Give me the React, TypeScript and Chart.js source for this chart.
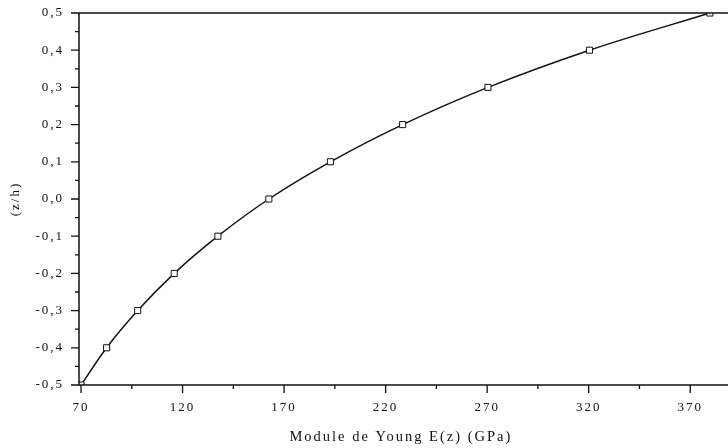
import React, { useEffect, useRef } from "react";
import { Chart, registerables } from "chart.js";

Chart.register(...registerables);

// Data
const youngModulus = [70, 82.6, 97.9, 115.9, 137.4, 162.5, 192.8, 228.4, 270.4, 320.4, 379.7];
const zOverH = [-0.5, -0.4, -0.3, -0.2, -0.1, 0.0, 0.1, 0.2, 0.3, 0.4, 0.5];

const xTickValues = [70, 120, 170, 220, 270, 320, 370];
const yTickValues = [-0.5, -0.4, -0.3, -0.2, -0.1, 0.0, 0.1, 0.2, 0.3, 0.4, 0.5];

const xTitle = "Module de Young E(z) (GPa)";
const yTitle = "(z/h)";

const FONT = "'Liberation Serif', 'Times New Roman', serif";
const INK = "#111";

const framePlugin = {
  id: "frame",
  beforeDraw(chart: any) {
    (chart.ctx as any).letterSpacing = "2px";
  },
  afterDraw(chart: any) {
    const { ctx, chartArea, scales } = chart;
    const xs = scales.x;
    const ys = scales.y;
    ctx.save();
    (ctx as any).letterSpacing = "0px";
    ctx.strokeStyle = INK;
    ctx.lineWidth = 1.5;
    ctx.beginPath();
    // left axis
    ctx.moveTo(chartArea.left, chartArea.top);
    ctx.lineTo(chartArea.left, chartArea.bottom);
    // bottom axis
    ctx.moveTo(chartArea.left, chartArea.bottom);
    ctx.lineTo(chart.width, chartArea.bottom);
    // top line
    ctx.moveTo(chartArea.left, chartArea.top);
    ctx.lineTo(chart.width, chartArea.top);
    ctx.stroke();

    ctx.lineWidth = 1.3;
    ctx.beginPath();
    // y ticks (major + minor halfway)
    for (let i = 0; i < yTickValues.length; i++) {
      const v = yTickValues[i];
      const py = ys.getPixelForValue(v);
      ctx.moveTo(chartArea.left - 8, py);
      ctx.lineTo(chartArea.left, py);
      if (i < yTickValues.length - 1) {
        const m = (v + yTickValues[i + 1]) / 2;
        const pm = ys.getPixelForValue(m);
        ctx.moveTo(chartArea.left - 4, pm);
        ctx.lineTo(chartArea.left, pm);
      }
    }
    // x ticks
    for (let i = 0; i < xTickValues.length; i++) {
      const v = xTickValues[i];
      const px = xs.getPixelForValue(v);
      ctx.moveTo(px, chartArea.bottom);
      ctx.lineTo(px, chartArea.bottom + 8);
      const step = i < xTickValues.length - 1 ? xTickValues[i + 1] - v : xTickValues[1] - xTickValues[0];
      const m = v + step / 2;
      if (m <= xs.max) {
        const pm = xs.getPixelForValue(m);
        ctx.moveTo(pm, chartArea.bottom);
        ctx.lineTo(pm, chartArea.bottom + 4);
      }
    }
    ctx.stroke();
    ctx.restore();
  },
};

export default function App() {
  const canvasRef = useRef<HTMLCanvasElement | null>(null);

  useEffect(() => {
    if (!canvasRef.current) return;
    const points = youngModulus.map((x, i) => ({ x, y: zOverH[i] }));
    const chart = new Chart(canvasRef.current, {
      type: "scatter",
      data: {
        datasets: [
          {
            data: points,
            showLine: true,
            cubicInterpolationMode: "monotone",
            borderColor: INK,
            borderWidth: 1.5,
            pointStyle: "rect",
            pointRadius: 4.3,
            pointBackgroundColor: "#fff",
            pointBorderColor: INK,
            pointBorderWidth: 1,
          } as any,
        ],
      },
      options: {
        responsive: false,
        animation: false,
        layout: { padding: { top: 13, right: 0, left: 0, bottom: 0 } },
        plugins: {
          legend: { display: false },
          tooltip: { enabled: false },
        },
        scales: {
          x: {
            type: "linear",
            min: 69,
            max: 386,
            grid: { display: false, drawTicks: false, tickLength: 0 },
            border: { display: false },
            afterBuildTicks: (scale: any) => {
              scale.ticks = xTickValues.map((value) => ({ value }));
            },
            afterFit: (scale: any) => {
              scale.height = 63;
              scale.paddingLeft = 0;
              scale.paddingRight = 0;
            },
            ticks: {
              color: INK,
              padding: 15,
              maxRotation: 0,
              autoSkip: false,
              font: { family: FONT, size: 13 },
              callback: (v: any) => String(v),
            },
            title: {
              display: true,
              text: xTitle,
              color: INK,
              font: { family: FONT, size: 14.5 },
              padding: { top: 0, bottom: 2 },
            },
          },
          y: {
            type: "linear",
            min: -0.5,
            max: 0.5,
            grid: { display: false, drawTicks: false, tickLength: 0 },
            border: { display: false },
            afterBuildTicks: (scale: any) => {
              scale.ticks = yTickValues.map((value) => ({ value }));
            },
            afterFit: (scale: any) => {
              scale.width = 79;
              scale.paddingTop = 0;
              scale.paddingBottom = 0;
            },
            ticks: {
              color: INK,
              padding: 15,
              autoSkip: false,
              font: { family: FONT, size: 13 },
              callback: (v: any) => Number(v).toFixed(1).replace(".", ","),
            },
            title: {
              display: true,
              text: yTitle,
              color: INK,
              font: { family: FONT, size: 13 },
              padding: { top: 8, bottom: 0 },
            },
          },
        },
      },
      plugins: [framePlugin],
    });
    return () => chart.destroy();
  }, []);

  return (
    <div style={{ position: "absolute", left: 0, top: 0, width: 728, height: 448, background: "#fff" }}>
      <canvas ref={canvasRef} width={728} height={448} />
    </div>
  );
}
